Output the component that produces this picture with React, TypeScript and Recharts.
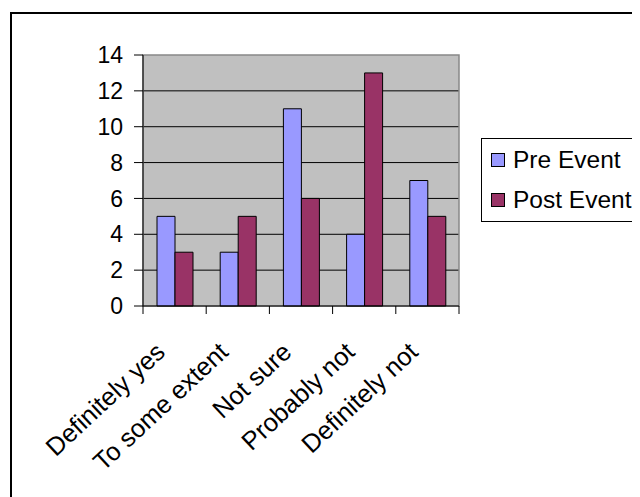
import React from 'react';
import { BarChart, Bar, XAxis, YAxis, CartesianGrid, Legend, ReferenceArea } from 'recharts';

const categories = ['Definitely yes', 'To some extent', 'Not sure', 'Probably not', 'Definitely not'];
const preEvent = [5, 3, 11, 4, 7];
const postEvent = [3, 5, 6, 13, 5];
const seriesNames = ['Pre Event', 'Post Event'];
const seriesColors = ['#9999FF', '#993366'];
const yTicks = [0, 2, 4, 6, 8, 10, 12, 14];
const gridValues = [2, 4, 6, 8, 10, 12];

const data = categories.map((c, i) => ({ category: c, pre: preEvent[i], post: postEvent[i] }));

const FONT = '"Liberation Sans", Arial, sans-serif';

function XTick(props: any) {
  const { x, y, payload, index } = props;
  const half = payload && typeof payload.offset === 'number' ? payload.offset : 0;
  const isLast = index === categories.length - 1;
  return (
    <g>
      <line x1={x - half} x2={x - half} y1={y} y2={y + 8} stroke="#000" />
      {isLast && <line x1={x + half} x2={x + half} y1={y} y2={y + 8} stroke="#000" />}
      <text
        transform={`translate(${x - 8},${y + 48}) rotate(-43)`}
        textAnchor="end"
        fontSize={25.5}
        fontFamily={FONT}
        fill="#000"
      >
        {payload.value}
      </text>
    </g>
  );
}

function LegendBox(props: any) {
  const payload = (props.payload || [])
    .slice()
    .sort((a: any, b: any) => seriesNames.indexOf(a.value) - seriesNames.indexOf(b.value));
  return (
    <div
      style={{
        border: '1px solid #000',
        background: '#fff',
        width: 220,
        height: 84,
        boxSizing: 'border-box',
        paddingTop: 1,
        fontFamily: FONT,
        fontSize: 24.5,
        color: '#000',
      }}
    >
      {payload.map((entry: any) => (
        <div key={entry.value} style={{ display: 'flex', alignItems: 'center', height: 40 }}>
          <div
            style={{
              marginLeft: 9,
              width: 12,
              height: 12,
              border: '1px solid #000',
              background: entry.color,
              flexShrink: 0,
            }}
          />
          <span style={{ marginLeft: 8, whiteSpace: 'nowrap', lineHeight: '40px' }}>{entry.value}</span>
        </div>
      ))}
    </div>
  );
}

export default function App() {
  return (
    <div style={{ position: 'relative', width: 632, height: 489, overflow: 'hidden', background: '#fff' }}>
      <div
        style={{
          position: 'absolute',
          left: 2,
          top: 4,
          width: 700,
          height: 600,
          border: '2px solid #000',
          boxSizing: 'border-box',
        }}
      />
      <div style={{ position: 'absolute', left: 0, top: 0 }}>
        <BarChart
          width={632}
          height={489}
          data={data}
          margin={{ top: 47, right: 181, bottom: 0, left: 0 }}
          barGap={0}
          barSize={18}
        >
          <CartesianGrid
            vertical={false}
            horizontalValues={gridValues}
            stroke="#000"
            fill="#C0C0C0"
            fillOpacity={1}
          />
          <ReferenceArea y1={0} y2={14} fill="none" fillOpacity={0} stroke="#888" strokeWidth={1.5} />
          <XAxis
            dataKey="category"
            height={191}
            tickLine={false}
            axisLine={{ stroke: '#000' }}
            tick={<XTick />}
            tickSize={0}
            tickMargin={0}
            interval={0}
          />
          <YAxis
            width={135}
            domain={[0, 14]}
            ticks={yTicks}
            tickSize={9}
            tickMargin={11}
            axisLine={{ stroke: '#000' }}
            tickLine={{ stroke: '#000' }}
            tick={{ fill: '#000', fontSize: 23, fontFamily: FONT }}
            interval={0}
          />
          <Legend
            layout="vertical"
            align="center"
            verticalAlign="middle"
            content={<LegendBox />}
            wrapperStyle={{ left: 473, top: 130, width: 220, height: 84 }}
          />
          <Bar dataKey="pre" name={seriesNames[0]} fill={seriesColors[0]} stroke="#000" strokeWidth={1} isAnimationActive={false} />
          <Bar dataKey="post" name={seriesNames[1]} fill={seriesColors[1]} stroke="#000" strokeWidth={1} isAnimationActive={false} />
        </BarChart>
      </div>
    </div>
  );
}
